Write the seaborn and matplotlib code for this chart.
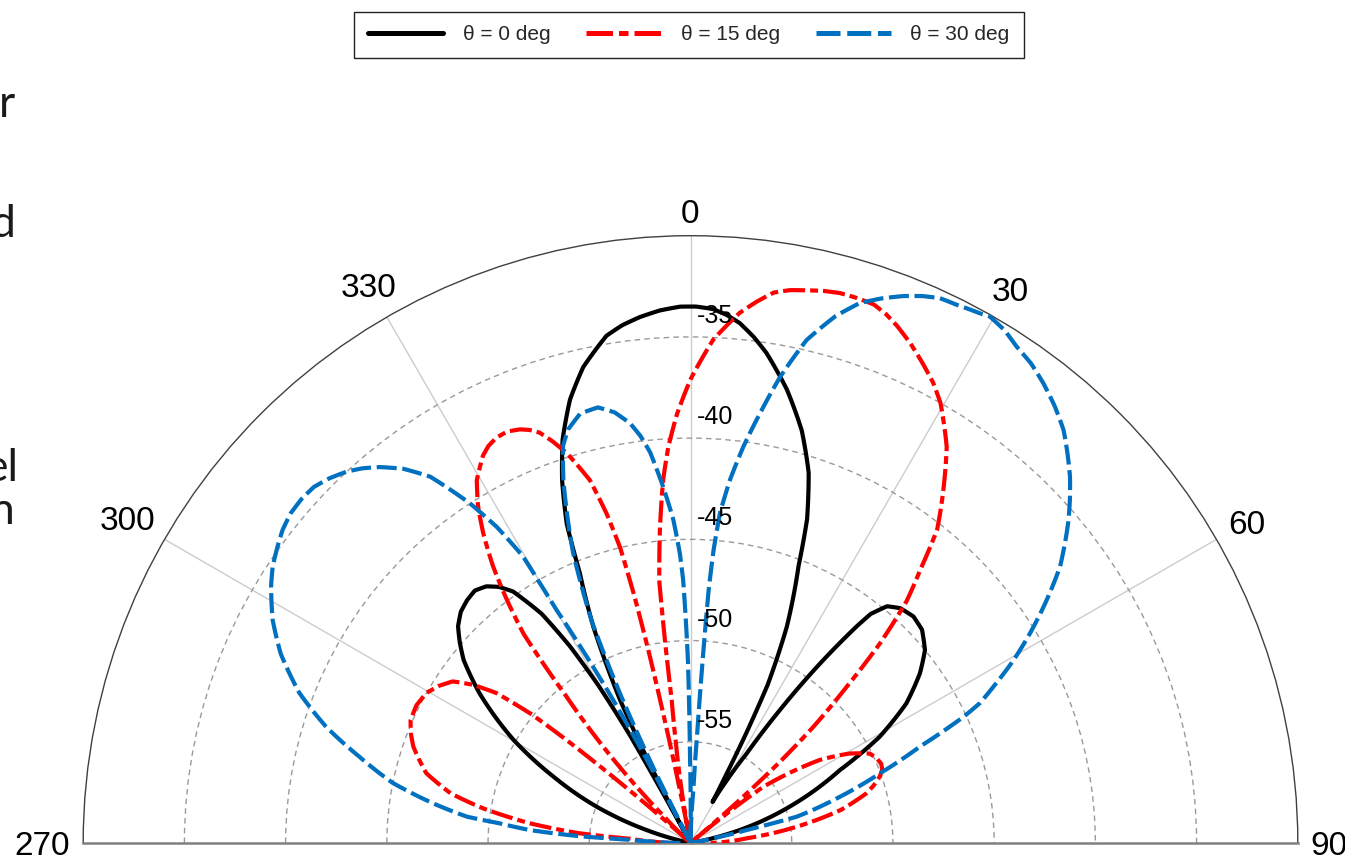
import numpy as np
import pandas as pd
import matplotlib
matplotlib.use("Agg")
import matplotlib.pyplot as plt
import matplotlib.transforms as mtransforms
from matplotlib.lines import Line2D
import seaborn as sns

# Radiation patterns (dB) against observation angle (deg) for three steering angles
angle_0 = [-90, -78, -73.5, -68.8, -64.2, -59.8, -54.6, -51.1, -49.0, -47.0, -44.8, -42.6, -40.5, -38.5, -36.8, -35.2,
           -33.0, -31.5, -30.3, -29.3, -28.6,
           -28.0, -27.2, -26.2, -24.2, -22.3, -21.2, -19.5, -17.6, -15.2, -12.7, -9.4, -7.5, -5.5, -3.3, -1.1, 0.6, 2.4,
           3.9, 5.4, 7.1, 8.8, 12.0, 15.1, 17.7, 19.8, 21.3, 24.0, 26.0, 27.0, 27.6, 28.2,
           30.0, 32.1, 33.9, 35.8, 37.5, 38.2, 39.7, 41.75, 44.55, 47.35, 50.55, 53.5, 57.1, 60.7, 64.0, 69.9, 75.3, 80.0, 90]
level_0 = [-60, -60, -57.7, -55.0, -52.5, -49.9, -47.2, -45.6, -44.9, -44.3, -43.9, -43.7, -43.6, -43.8, -44.2, -44.8,
           -46.5, -48.6, -51.0, -54.0, -60,
           -58.0, -55.4, -52.1, -48.3, -45.6, -43.1, -41.0, -39.1, -37.3, -35.9, -34.6, -34.2, -33.9, -33.65, -33.5, -33.5, -33.6,
           -33.85, -34.2, -34.8, -35.5, -37.1, -38.9, -40.8, -43.0, -45.3, -48.3, -51.3, -54.2, -56.3, -57.7,
           -56.5, -54.8, -52.1, -49.1, -46.5, -45.6, -44.8, -44.45, -44.3, -44.45, -45.0, -45.9, -47.3, -49.3, -51.8, -54.8, -57.5, -60, -60]

angle_15 = [-90, -88, -86.0, -85.0, -83.0, -80.5, -78.3, -75.2, -72.8, -70.8, -68.5, -66.3, -63.3, -60.4, -58.0, -55.8, -54.0,
            -52.3, -51.0, -50.3, -49.5, -48.7, -47.8,
            -45.0, -42.7, -40.2, -38.6, -37.1, -35.5, -33.8, -32.2, -30.5, -28.2, -27.0, -25.6, -24.0, -22.4, -21.3, -20.2,
            -19.0, -17.6, -15.5, -14.3, -13.4, -12.8, -12.3, -11.9, -11.4, -10.9,
            -9.6, -8.3, -7.5, -7.2, -6.8, -5.6, -4.3, -3.2, -1.8, 0.0, 2.6, 5.3, 7.0, 8.6, 10.2, 11.9, 13.5, 15.2, 17.0, 18.8,
            20.3, 21.8, 23.8, 25.9, 27.8, 29.6, 32.9, 34.8, 38.2, 40.0, 41.8, 43.5, 45.0, 46.6, 47.8, 48.6, 49.3, 50.0,
            50.8, 52.3, 57.3, 60.6, 63.5, 65.5, 67.4, 69.0, 70.7, 72.5, 74.3, 77.6, 81.3, 85.2, 90]
level_15 = [-59.0, -58.2, -57.0, -54.5, -52.0, -49.6, -47.9, -46.5, -45.95, -45.5, -45.15, -44.9, -44.85, -45.0, -45.35, -45.8, -46.7,
            -47.9, -49.9, -52.0, -55.0, -57.6, -60,
            -58.2, -54.4, -50.4, -46.8, -45.0, -43.2, -41.6, -40.3, -39.2, -38.3, -38.0, -37.8, -37.75, -37.9, -38.1, -38.4,
            -39.0, -39.8, -41.4, -43.2, -45.0, -47.5, -50.5, -53.5, -57.0, -60,
            -57.4, -55.0, -52.9, -50.0, -47.0, -44.5, -42.0, -40.4, -38.8, -37.1, -35.1, -33.7, -33.05, -32.5, -32.25, -32.1,
            -31.95, -31.85, -31.85, -31.9, -32.15, -32.5, -33.05, -33.7, -34.3, -35.0, -36.7, -38.0, -40.3, -42.3, -44.0,
            -46.4, -49.1, -51.65, -54.1, -56.3, -58.5, -60,
            -58.0, -55.5, -52.4, -51.0, -50.1, -49.9, -49.8, -49.85, -50.1, -50.5, -51.0, -52.4, -54.7, -57.2, -59.0]

angle_30 = [-90, -88.2, -87.0, -86.5, -85.4, -84.1, -83.3, -81.2, -78.6, -75.4, -72.3, -69.0, -65.2, -61.9, -58.5, -56.5,
            -54.4, -52.5, -50.5, -48.5, -46.6, -44.7, -42.8, -41.2, -39.6, -37.5, -35.4, -33.0, -31.5, -30.3, -29.9, -29.1,
            -28.4, -27.8, -27.4, -27.0,
            -26.3, -25.3, -24.0, -22.0, -19.3, -17.8, -16.5, -14.4, -12.0, -10.0, -8.2, -7.0, -5.9, -4.4, -3.05, -2.1, -1.6,
            -0.8, -0.3, 0.8,
            3.0, 3.5, 3.8, 4.1, 4.5, 5.1, 6.2, 7.6, 9.2, 10.9, 13.0, 15.4, 17.4, 19.3, 21.3, 23.0, 24.6, 26.3, 28.7, 29.6,
            31.5, 33.3, 35.4, 37.5, 39.8, 42.1, 44.0, 46.0, 47.8, 49.6, 53.2, 55.7, 58.3, 60.5, 62.7, 64.2, 65.2, 67.2,
            69.8, 72.8, 76.1, 77.0, 78.4, 80.0, 90]
level_30 = [-59.5, -58.3, -57.0, -54.5, -52.05, -50.5, -48.9, -47.1, -45.0, -43.1, -41.1, -39.3, -37.7, -36.6, -35.7, -35.25,
            -34.9, -34.6, -34.4, -34.35, -34.4, -34.65, -35.0, -35.4, -35.9, -36.7, -37.8, -40.0, -41.7, -43.6, -46.7, -49.5,
            -52.0, -54.6, -57.2, -60,
            -56.0, -52.0, -48.0, -44.5, -41.0, -39.4, -38.7, -38.1, -38.0, -38.4, -39.05, -39.75, -40.6, -42.35, -44.0, -45.7,
            -47.0, -51.0, -55.9, -60,
            -57.5, -54.5, -51.0, -47.5, -45.5, -43.65, -41.96, -40.25, -38.49, -36.54, -34.5, -33.0, -32.05, -31.5, -31.0,
            -30.65, -30.4, -30.34, -30.18, -30.08, -30.3, -30.66, -30.95, -31.37, -31.9, -32.51, -33.2, -33.94, -34.7, -35.49,
            -37.2, -38.7, -40.29, -41.67, -43.16, -44.12, -45.15, -47.7, -50.02, -52.27, -54.6, -57.15, -58.85, -60, -60]

series_labels = ["θ = 0 deg", "θ = 15 deg", "θ = 30 deg"]
series_colors = ["#000000", "#FF0000", "#0070C0"]
series_dashes = ["", (5.3, 1.2, 1.9, 1.2), (4.8, 1.35)]

radial_ticks = [-55, -50, -45, -40, -35]
r_min, r_max = -60, -30
spoke_angles = [-60, -30, 0, 30, 60]
angle_ticks = [270, 300, 330, 0, 30, 60, 90]

# Cut-off words of neighbouring slide text at the left margin: (text, right edge px, baseline px)
side_words = ["r", "d", "el", "n"]
side_right = [15, 15, 18, 15]
side_base = [117, 237, 481, 524]

sns.set_theme(style="white")
plt.rcParams["font.family"] = ["Liberation Sans", "DejaVu Sans"]

W, H, DPI = 1345, 860, 100
fig = plt.figure(figsize=(W / DPI, H / DPI), dpi=DPI)
fig.patch.set_facecolor("white")

# Half polar plot: centre at (690.5, 843) px, outer radius 607.3 px.
# The polar axes fits the half disc into a square box, centred vertically.
cx, cy, R = 690.5, 843.0, 607.3
box_top = (cy - R / 2) - R          # pixel row of the square box top
ax = fig.add_axes([(cx - R) / W, (H - (box_top + 2 * R)) / H, 2 * R / W, 2 * R / H], projection="polar")
ax.set_theta_zero_location("N")
ax.set_theta_direction(-1)
ax.set_thetamin(-90)
ax.set_thetamax(90)
ax.set_facecolor("white")

frames = []
for lab, ang, lev in zip(series_labels, [angle_0, angle_15, angle_30], [level_0, level_15, level_30]):
    frames.append(pd.DataFrame({"theta": np.deg2rad(ang), "level": lev, "series": lab}))
df = pd.concat(frames, ignore_index=True)

sns.lineplot(data=df, x="theta", y="level", hue="series", style="series",
             hue_order=series_labels, style_order=series_labels,
             palette=dict(zip(series_labels, series_colors)),
             dashes=dict(zip(series_labels, series_dashes)),
             estimator=None, sort=False, linewidth=3.0, legend=False, ax=ax, zorder=3)

# join successive samples along polar arcs/spirals rather than straight chords
for ln in ax.get_lines():
    ln.get_path()._interpolation_steps = 12
    ln.set_solid_joinstyle("round")

ax.set_ylim(r_min, r_max)
ax.set_xlabel("")
ax.set_ylabel("")

# grid: dashed rings and light spokes
ax.set_rgrids(radial_ticks, labels=[""] * len(radial_ticks))
ax.set_thetagrids(spoke_angles, labels=[""] * len(spoke_angles))
ax.grid(True, axis="y", color="#9a9a9a", linewidth=1.0, linestyle=(0, (4, 3)))
ax.grid(True, axis="x", color="#cccccc", linewidth=1.0, linestyle="-")
ax.set_axisbelow(True)
ax.tick_params(length=0, pad=0)
ax.set_ylim(r_min, r_max)

ax.spines["polar"].set_color("#404040")
ax.spines["polar"].set_linewidth(1.0)
for s in ("start", "end"):
    ax.spines[s].set_color("#808080")
    ax.spines[s].set_linewidth(1.8)

# radial value labels just right of the 0 deg spoke
for v in radial_ticks:
    tr = mtransforms.offset_copy(ax.transData, fig=fig, x=6.5, y=14, units="dots")
    ax.text(0, v, f"{v}", transform=tr, ha="left", va="baseline", fontsize=18, color="black", zorder=5)

# angle labels outside the rim
fs_ang = 24
px = fs_ang * DPI / 72
gap = 13
for deg in angle_ticks:
    signed = deg - 360 if deg > 180 else deg
    th = np.deg2rad(signed)
    label = str(deg)
    w = len(label) * 0.556 * px
    h = 0.716 * px
    support = 0.5 * w * abs(np.sin(th)) + 0.5 * h * abs(np.cos(th))
    d = gap + support
    tr = mtransforms.offset_copy(ax.transData, fig=fig, x=d * np.sin(th), y=d * np.cos(th) - h / 2, units="dots")
    ax.text(th, r_max, label, transform=tr, ha="center", va="baseline", fontsize=fs_ang, color="black")

# legend above the plot
handles = [Line2D([], [], color=c, linewidth=3.6, linestyle=(0, d) if d else "-")
           for c, d in zip(series_colors, series_dashes)]
leg = fig.legend(handles, series_labels, loc="center", bbox_to_anchor=(689 / W, 1 - 35 / H), ncol=3,
                 frameon=True, fancybox=False, framealpha=1, edgecolor="#222222", fontsize=15,
                 handlelength=3.6, handletextpad=0.95, columnspacing=1.7, borderpad=0.67, borderaxespad=0)
leg.get_frame().set_linewidth(1.0)

for s, xr, yb in zip(side_words, side_right, side_base):
    fig.text(xr / W, 1 - yb / H, s, ha="right", va="baseline", fontsize=32, family=["Lato", "DejaVu Sans"],
             color="#1a1a1a")

fig.savefig("out.png", dpi=DPI, facecolor="white")
